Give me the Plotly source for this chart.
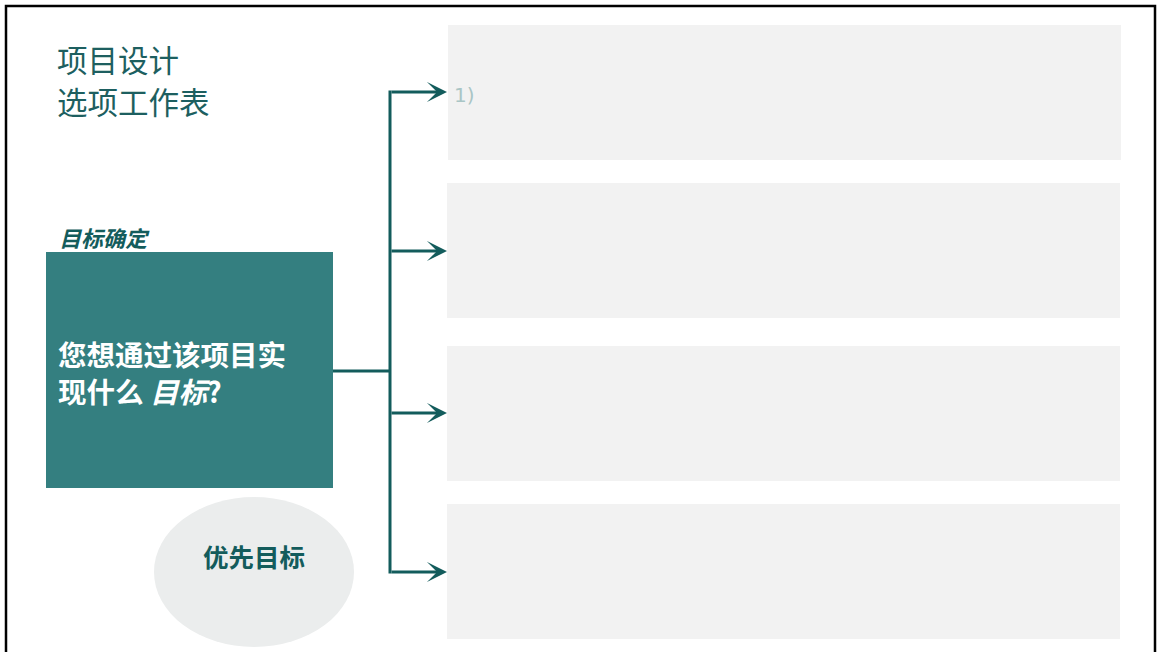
import plotly.graph_objects as go

W, H = 1158, 652
TEAL = "#347F80"
DARK = "#135C5C"
PANEL = "#F2F2F2"

title_lines = ["项目设计", "选项工作表"]
section_label = "目标确定"
question_lines = ["您想通过该项目实", "现什么 <i>目标</i>?"]
priority_label = "优先目标"
first_item = "1)"

# panels: (x0, x1, y0, y1)
panels_x0 = [448, 447, 447, 447]
panels_x1 = [1121, 1120, 1120, 1120]
panels_y0 = [25, 183, 346, 504]
panels_y1 = [160, 318, 481, 639]
arrow_y = [92, 251, 413, 572]

fig = go.Figure()
fig.add_trace(go.Scatter(x=[0, W], y=[0, H], mode="markers", marker=dict(opacity=0), hoverinfo="skip", showlegend=False))

shapes = []
# frame
shapes.append(dict(type="rect", xref="x", yref="y", x0=6, x1=1155, y0=6, y1=H + 20,
                   line=dict(color="black", width=2.5), fillcolor="rgba(0,0,0,0)", layer="above"))
for x0, x1, y0, y1 in zip(panels_x0, panels_x1, panels_y0, panels_y1):
    shapes.append(dict(type="rect", xref="x", yref="y", x0=x0, x1=x1, y0=y0, y1=y1,
                       line=dict(width=0), fillcolor=PANEL, layer="below"))
# teal box
shapes.append(dict(type="rect", xref="x", yref="y", x0=46, x1=333, y0=252, y1=488,
                   line=dict(width=0), fillcolor=TEAL, layer="below"))
# ellipse
shapes.append(dict(type="circle", xref="x", yref="y", x0=154, x1=354, y0=497, y1=647,
                   line=dict(width=0), fillcolor="#EBEDED", layer="below"))
# connectors
shapes.append(dict(type="line", xref="x", yref="y", x0=333, x1=390, y0=371, y1=371,
                   line=dict(color=DARK, width=3)))
shapes.append(dict(type="line", xref="x", yref="y", x0=390, x1=390, y0=arrow_y[0] - 1.5, y1=arrow_y[-1] + 1.5,
                   line=dict(color=DARK, width=3)))

annotations = []
for y in arrow_y:
    annotations.append(dict(x=447, y=y, ax=390, ay=y, xref="x", yref="y", axref="x", ayref="y",
                            showarrow=True, arrowhead=3, arrowsize=1.15, arrowwidth=2.9,
                            arrowcolor=DARK, text=""))

for i, t in enumerate(title_lines):
    annotations.append(dict(x=56, y=59 + i * 42, xref="x", yref="y", text=t, showarrow=False,
                            xanchor="left", yanchor="middle", borderpad=0,
                            font=dict(family="Noto Sans CJK SC", size=30.5, color="#1D5F60")))
annotations.append(dict(x=57, y=237, xref="x", yref="y", text="<b><i>" + section_label + "</i></b>",
                        showarrow=False, xanchor="left", yanchor="middle",
                        font=dict(family="Noto Sans CJK SC", size=22, color=DARK)))
annotations.append(dict(x=56, y=372, xref="x", yref="y", text="<b>" + "<br>".join(question_lines) + "</b>",
                        showarrow=False, xanchor="left", yanchor="middle", align="left",
                        font=dict(family="Noto Sans CJK SC", size=28.5, color="white")))
annotations.append(dict(x=254, y=555, xref="x", yref="y", text="<b>" + priority_label + "</b>",
                        showarrow=False, xanchor="center", yanchor="middle",
                        font=dict(family="Noto Sans CJK SC", size=25.5, color=DARK)))
annotations.append(dict(x=452, y=95, xref="x", yref="y", text=first_item,
                        showarrow=False, xanchor="left", yanchor="middle",
                        font=dict(family="DejaVu Sans", size=20, color="#A9C5C5")))

fig.update_layout(
    width=W, height=H, margin=dict(l=0, r=0, t=0, b=0),
    paper_bgcolor="white", plot_bgcolor="white",
    xaxis=dict(range=[0, W], visible=False, fixedrange=True),
    yaxis=dict(range=[H, 0], visible=False, fixedrange=True),
    shapes=shapes, annotations=annotations, showlegend=False,
)
fig.write_html("out.html", config={"displayModeBar": False},
               post_script="document.body.style.margin='0';document.body.style.overflow='hidden';")
